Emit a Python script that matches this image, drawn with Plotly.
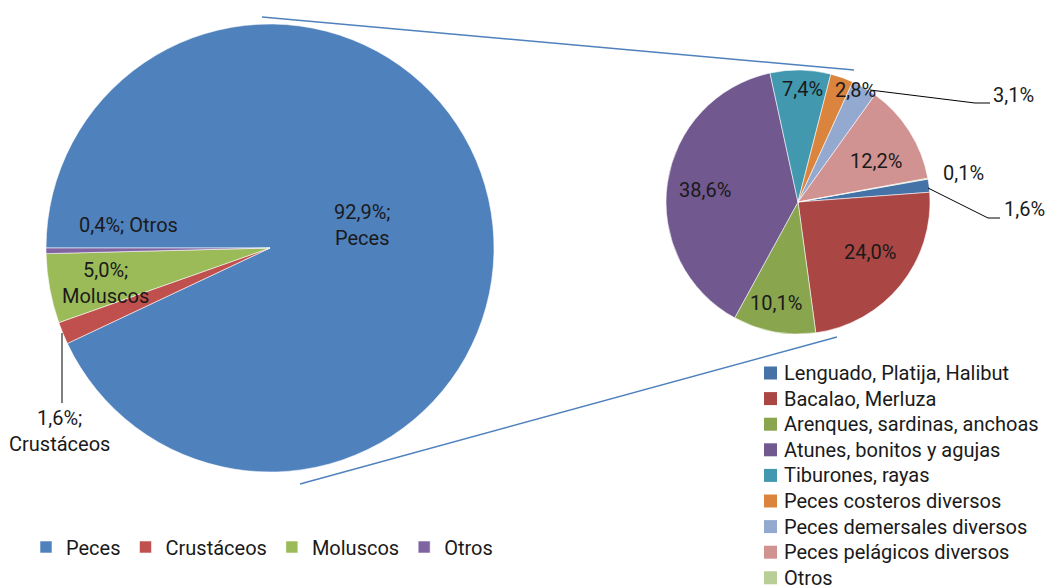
import plotly.graph_objects as go

W, H = 1045, 588          # size of the picture

# ---------------- data ----------------
main_categories = ["Peces", "Crustáceos", "Moluscos", "Otros"]
main_values = [92.9, 1.6, 5.0, 0.4]

fish_categories = [
    "Lenguado, Platija, Halibut",
    "Bacalao, Merluza",
    "Arenques, sardinas, anchoas",
    "Atunes, bonitos y agujas",
    "Tiburones, rayas",
    "Peces costeros diversos",
    "Peces demersales diversos",
    "Peces pelágicos diversos",
    "Otros",
]
fish_values = [1.6, 24.0, 10.1, 38.6, 7.4, 2.8, 3.1, 12.2, 0.1]

# ---------------- styles ----------------
main_colors = ["#4F81BD", "#C0504D", "#9BBB59", "#8064A2"]
fish_colors = ["#4572A7", "#AA4643", "#89A54E", "#71588F", "#4198AF",
               "#DB843D", "#93A9CF", "#D19392", "#B9CD96"]
FONT = "Roboto, 'Noto Sans', sans-serif"
TXT = "#1a1a1a"
LABEL_SIZE = 20
LEGEND_SIZE = 20


def px_x(x):
    return x / W


def px_y(y):
    return 1 - y / H


def fmt(v):
    return f"{v:.1f}".replace(".", ",") + "%"


LEFT = dict(cx=270, cy=248, r=224)
RIGHT = dict(cx=798, cy=202, r=132)


def domain(p):
    return dict(x=[px_x(p["cx"] - p["r"]), px_x(p["cx"] + p["r"])],
                y=[px_y(p["cy"] + p["r"]), px_y(p["cy"] - p["r"])])


fig = go.Figure()
fig.add_trace(go.Pie(
    labels=main_categories, values=main_values, sort=False,
    direction="clockwise", rotation=270,
    marker=dict(colors=main_colors, line=dict(color="rgba(255,255,255,0.7)", width=0.8)),
    textinfo="none", domain=domain(LEFT), legend="legend",
    hovertemplate="%{label}: %{value}%<extra></extra>",
))
fig.add_trace(go.Pie(
    labels=fish_categories, values=fish_values, sort=False,
    direction="clockwise", rotation=80,
    marker=dict(colors=fish_colors, line=dict(color="rgba(255,255,255,0.7)", width=0.8)),
    textinfo="none", domain=domain(RIGHT), showlegend=False,
    hovertemplate="%{label}: %{value}%<extra></extra>",
))

annotations = []

# labels of the main pie (text from data, placement in pixels)
main_label_pos = {
    "Peces": (362, 225, "<br>"),
    "Crustáceos": (59, 431, "<br>"),
    "Moluscos": (105, 283, "<br>"),
    "Otros": (128, 225, " "),
}
for name, val in zip(main_categories, main_values):
    x, y, sep = main_label_pos[name]
    annotations.append(dict(
        x=px_x(x), y=px_y(y), xref="paper", yref="paper", showarrow=False,
        text=f"{fmt(val)};{sep}{name}", align="center",
        xanchor="center", yanchor="middle",
        font=dict(family=FONT, size=LABEL_SIZE, color=TXT),
    ))

# labels of the fish pie
fish_label_pos = [(1024, 209), (870, 252), (776, 303), (705, 190), (802, 89),
                  (855, 90), (1013, 95), (876, 161), (963, 173)]
for val, (x, y) in zip(fish_values, fish_label_pos):
    annotations.append(dict(
        x=px_x(x), y=px_y(y), xref="paper", yref="paper", showarrow=False,
        text=fmt(val), xanchor="center", yanchor="middle",
        font=dict(family=FONT, size=LABEL_SIZE, color=TXT),
    ))

shapes = []
# connector lines between the pies
for (x0, y0, x1, y1) in [(262, 17, 854, 70), (300, 484, 837, 337)]:
    shapes.append(dict(type="line", xref="paper", yref="paper",
                       x0=px_x(x0), y0=px_y(y0), x1=px_x(x1), y1=px_y(y1),
                       line=dict(color="#4F81BD", width=1.5)))

# leader lines
leaders = [
    [(62, 333), (62, 403)],
    [(870, 90), (975, 103), (990, 103)],
    [(928, 188), (988, 218), (1000, 218)],
]
for pts in leaders:
    path = "M " + " L ".join(f"{px_x(x)},{px_y(y)}" for x, y in pts)
    shapes.append(dict(type="path", xref="paper", yref="paper", path=path,
                       line=dict(color="#000000", width=1)))

# legend for the fish pie (squares + texts)
LEG_X, LEG_Y0, LEG_STEP, SQ = 764, 373, 25.6, 13
for i, (name, col) in enumerate(zip(fish_categories, fish_colors)):
    yc = LEG_Y0 + i * LEG_STEP
    shapes.append(dict(type="rect", xref="paper", yref="paper",
                       x0=px_x(LEG_X), x1=px_x(LEG_X + SQ),
                       y0=px_y(yc + SQ / 2), y1=px_y(yc - SQ / 2),
                       fillcolor=col, line=dict(width=0)))
    annotations.append(dict(
        x=px_x(LEG_X + SQ + 5), y=px_y(yc), xref="paper", yref="paper",
        showarrow=False, text=name, xanchor="left", yanchor="middle",
        font=dict(family=FONT, size=LEGEND_SIZE, color=TXT),
    ))

fig.update_layout(
    width=W, height=H,
    margin=dict(l=0, r=0, t=0, b=0),
    paper_bgcolor="white", plot_bgcolor="white",
    font=dict(family=FONT, color=TXT),
    legend=dict(orientation="h", x=px_x(26), y=px_y(547),
                xanchor="left", yanchor="middle",
                font=dict(family=FONT, size=LEGEND_SIZE, color=TXT),
                bgcolor="rgba(0,0,0,0)"),
    annotations=annotations,
    shapes=shapes,
)

# remove the default page margin so the figure fills the window exactly
fig.write_html("out.html",
               config={"displayModeBar": False},
               post_script="document.body.style.margin='0';"
                           "document.body.style.overflow='hidden';")
